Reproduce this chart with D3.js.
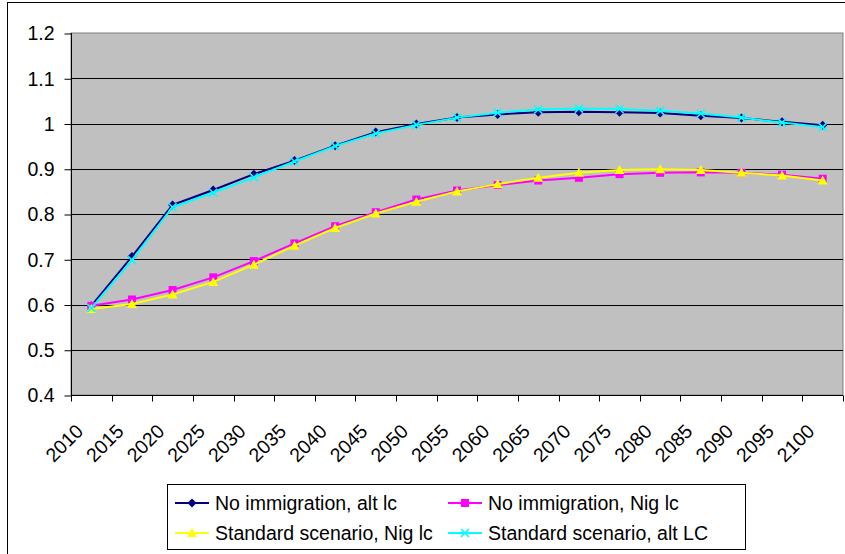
<!DOCTYPE html>
<html><head><meta charset="utf-8">
<script src="https://cdn.jsdelivr.net/npm/d3@7"></script>
<style>body{margin:0;background:#fff}svg{display:block}text{font-family:"Liberation Sans",Arial,sans-serif;fill:#000}</style>
</head><body><svg id="c" width="845" height="554"></svg>
<script>
const years = ["2010","2015","2020","2025","2030","2035","2040","2045","2050","2055","2060","2065","2070","2075","2080","2085","2090","2095","2100"];
const noImmAlt = [0.597,0.706,0.820,0.853,0.888,0.918,0.951,0.981,0.999,1.013,1.020,1.025,1.026,1.025,1.023,1.017,1.012,1.004,0.996];
const noImmNig = [0.597,0.611,0.632,0.660,0.696,0.735,0.773,0.804,0.832,0.852,0.864,0.874,0.880,0.888,0.891,0.892,0.891,0.887,0.878];
const stdNig   = [0.590,0.601,0.622,0.650,0.688,0.730,0.769,0.801,0.827,0.850,0.866,0.880,0.891,0.897,0.899,0.897,0.891,0.885,0.874];
const stdAlt   = [0.592,0.698,0.815,0.847,0.881,0.916,0.950,0.978,0.997,1.013,1.024,1.031,1.033,1.032,1.028,1.022,1.013,1.002,0.992];
const yTicks = [0.4,0.5,0.6,0.7,0.8,0.9,1.0,1.1,1.2];
const seriesNames = ["No immigration, alt lc","No immigration, Nig lc","Standard scenario, Nig lc","Standard scenario, alt LC"];

const svg = d3.select("#c");
const L=71, R=843, T=33, B=395;
const x = d3.scaleBand().domain(years).range([L,R]);
const y = d3.scaleLinear().domain([0.4,1.2]).range([B,T]);
const fs = "19.5px";

// outer chart border (right/bottom edges fall outside the picture)
svg.append("rect").attr("x",7.5).attr("y",2.5).attr("width",860).attr("height",600).attr("fill","none").attr("stroke","#000").attr("stroke-width",1);

// plot area
svg.append("rect").attr("x",L).attr("y",T).attr("width",R-L).attr("height",B-T).attr("fill","#C0C0C0").attr("stroke","#808080").attr("stroke-width",1);

// gridlines
svg.append("g").selectAll("line").data(yTicks.slice(1, -1)).join("line")
  .attr("x1",L).attr("x2",R).attr("y1",d=>Math.round(y(d))+0.5).attr("y2",d=>Math.round(y(d))+0.5)
  .attr("stroke","#000").attr("stroke-width",1);

// y axis
const ya = svg.append("g").attr("transform",`translate(${L+0.5},0)`)
  .call(d3.axisLeft(y).tickValues(yTicks).tickSize(7).tickPadding(10).tickFormat(d=>d===1?"1":d3.format(".1f")(d)));
ya.select(".domain").attr("stroke","#000").attr("d",`M0,${T}V${B}`);
ya.selectAll(".tick line").attr("stroke","#000").attr("transform","translate(0,0.5)");
ya.selectAll("text").attr("font-size",fs).attr("font-family","Liberation Sans, Arial, sans-serif").attr("dy","0.35em");

// x axis
const xa = svg.append("g").attr("transform",`translate(0,${B+0.5})`);
xa.append("line").attr("x1",L).attr("x2",R).attr("y1",0).attr("y2",0).attr("stroke","#000");
const edges = years.map(d=>x(d)).concat([R]);
xa.selectAll("line.tk").data(edges).join("line").attr("class","tk")
  .attr("x1",d=>Math.round(d)+0.5).attr("x2",d=>Math.round(d)+0.5).attr("y1",0).attr("y2",6).attr("stroke","#000");
xa.selectAll("text").data(years).join("text")
  .attr("text-anchor","end").attr("font-size",fs)
  .attr("transform",d=>`translate(${x(d)+x.bandwidth()/2-7},${37}) rotate(-45)`)
  .text(d=>d);

const cx = d=>x(d)+x.bandwidth()/2;
const series = [
  {name:seriesNames[0], vals:noImmAlt, color:"#000080", sym:"diamond"},
  {name:seriesNames[1], vals:noImmNig, color:"#FF00FF", sym:"square"},
  {name:seriesNames[2], vals:stdNig, color:"#FFFF00", sym:"triangle"},
  {name:seriesNames[3], vals:stdAlt, color:"#00FFFF", sym:"x"}
];
function marker(g, sym, color){
  if(sym==="diamond") g.append("path").attr("d","M0,-4.5L4.5,0L0,4.5L-4.5,0Z").attr("fill",color);
  else if(sym==="square") g.append("rect").attr("x",-4).attr("y",-4).attr("width",8).attr("height",8).attr("fill",color);
  else if(sym==="triangle") g.append("path").attr("d","M0,-5L5,4L-5,4Z").attr("fill",color);
  else g.append("path").attr("d","M-4,-4L4,4M-4,4L4,-4").attr("stroke",color).attr("stroke-width",1.6).attr("fill","none");
}
const line = d3.line().x((d,i)=>cx(years[i])).y(d=>y(d));
series.forEach(s=>{
  svg.append("path").attr("d",line(s.vals)).attr("fill","none").attr("stroke",s.color).attr("stroke-width",2);
  s.vals.forEach((v,i)=>{
    const g = svg.append("g").attr("transform",`translate(${cx(years[i])},${y(v)})`);
    marker(g,s.sym,s.color);
  });
});

// legend
svg.append("rect").attr("x",167.5).attr("y",484.5).attr("width",578).attr("height",65).attr("fill","#fff").attr("stroke","#000");
const lpos = [[175,503],[448,503],[175,533],[448,533]];
series.forEach((s,i)=>{
  const [lx,ly]=lpos[i];
  svg.append("line").attr("x1",lx).attr("x2",lx+34).attr("y1",ly).attr("y2",ly).attr("stroke",s.color).attr("stroke-width",2);
  const g = svg.append("g").attr("transform",`translate(${lx+17},${ly})`);
  marker(g,s.sym,s.color);
  svg.append("text").attr("x",lx+40).attr("y",ly).attr("dy","0.35em").attr("font-size",fs).text(s.name);
});
</script></body></html>
